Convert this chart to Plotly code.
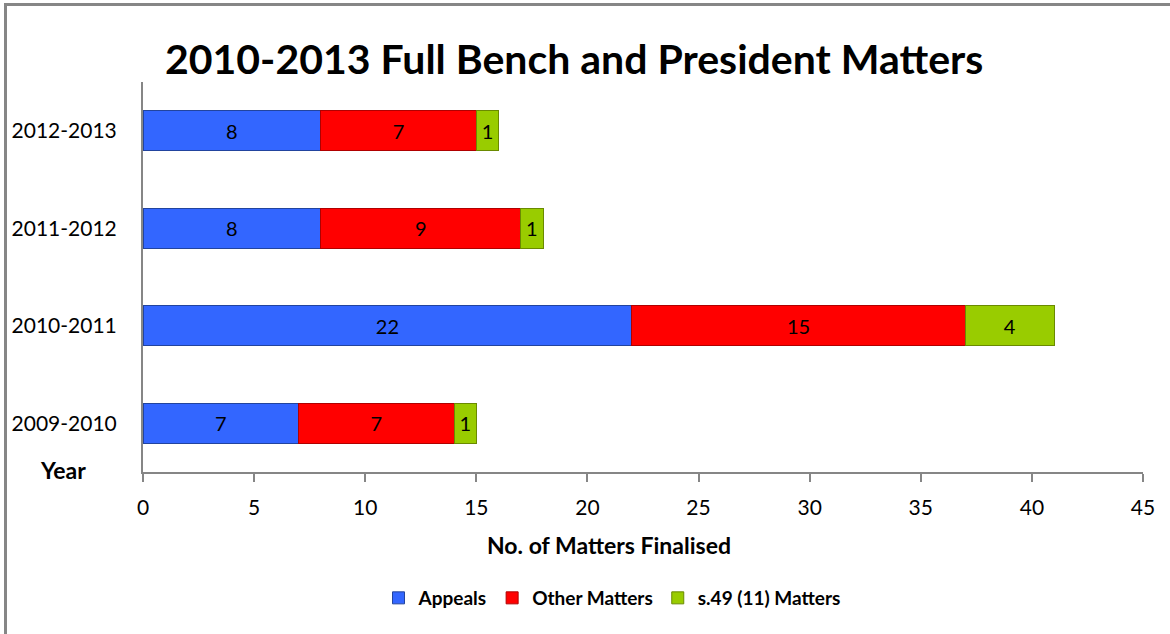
import plotly.graph_objects as go

years = ["2009-2010", "2010-2011", "2011-2012", "2012-2013"]
appeals = [7, 22, 8, 8]
other = [7, 15, 9, 7]
s49 = [1, 4, 1, 1]
series_names = ["Appeals", "Other Matters", "s.49 (11) Matters"]
colors = ["#3366FF", "#FF0000", "#99CC00"]
line_colors = ["#22449E", "#B00000", "#6A8A00"]

W, H = 1170, 634
L, R, T, B = 143, 1143, 82, 472

def px(x):
    return (x - L) / (R - L)

def py(y):
    return (B - y) / (B - T)

font = "Lato, Open Sans, sans-serif"
fig = go.Figure()
for name, vals, c, lc in zip(series_names, [appeals, other, s49], colors, line_colors):
    fig.add_trace(go.Bar(
        y=years, x=vals, name=name, orientation="h",
        marker=dict(color=c, line=dict(color=lc, width=1)),
        text=[str(v) for v in vals], textposition="inside",
        insidetextanchor="middle",
        textfont=dict(family=font, size=20, color="black"),
        width=0.41,
    ))

fig.update_layout(
    barmode="stack",
    width=W, height=H,
    margin=dict(l=L, r=W - R, t=T, b=H - B),
    paper_bgcolor="white", plot_bgcolor="white",
    showlegend=True,
    legend=dict(orientation="h", x=px(612), y=py(598), xanchor="center", yanchor="middle",
                font=dict(family=font, size=19, color="black", weight="bold"),
                traceorder="normal", itemwidth=30),
    xaxis=dict(range=[0, 45], dtick=5, showgrid=False, zeroline=False,
               showline=True, linecolor="#868686", linewidth=2,
               ticks="outside", ticklen=8, tickcolor="#868686", tickwidth=2,
               ticklabelstandoff=8,
               tickfont=dict(family=font, size=21, color="black")),
    yaxis=dict(range=[-0.5, 3.5], showgrid=False, zeroline=False,
               showline=True, linecolor="#868686", linewidth=2,
               ticks="", ticklabelstandoff=20,
               tickfont=dict(family=font, size=21, color="black")),
    annotations=[
        dict(text="<b>2010-2013 Full Bench and President Matters</b>", x=px(574), y=py(58),
             xref="paper", yref="paper", showarrow=False, xanchor="center", yanchor="middle",
             font=dict(family=font, size=41, color="black")),
        dict(text="<b>Year</b>", x=px(63), y=py(470),
             xref="paper", yref="paper", showarrow=False, xanchor="center", yanchor="middle",
             font=dict(family=font, size=23, color="black")),
        dict(text="<b>No. of Matters Finalised</b>", x=px(609), y=py(545),
             xref="paper", yref="paper", showarrow=False, xanchor="center", yanchor="middle",
             font=dict(family=font, size=23, color="black")),
    ],
    shapes=[
        dict(type="line", xref="paper", yref="paper", x0=px(4), x1=px(1172), y0=py(4.5), y1=py(4.5),
             line=dict(color="#868686", width=3)),
        dict(type="line", xref="paper", yref="paper", x0=px(5.5), x1=px(5.5), y0=py(4), y1=py(640),
             line=dict(color="#868686", width=3)),
    ],
)

fig.write_html("out.html")
